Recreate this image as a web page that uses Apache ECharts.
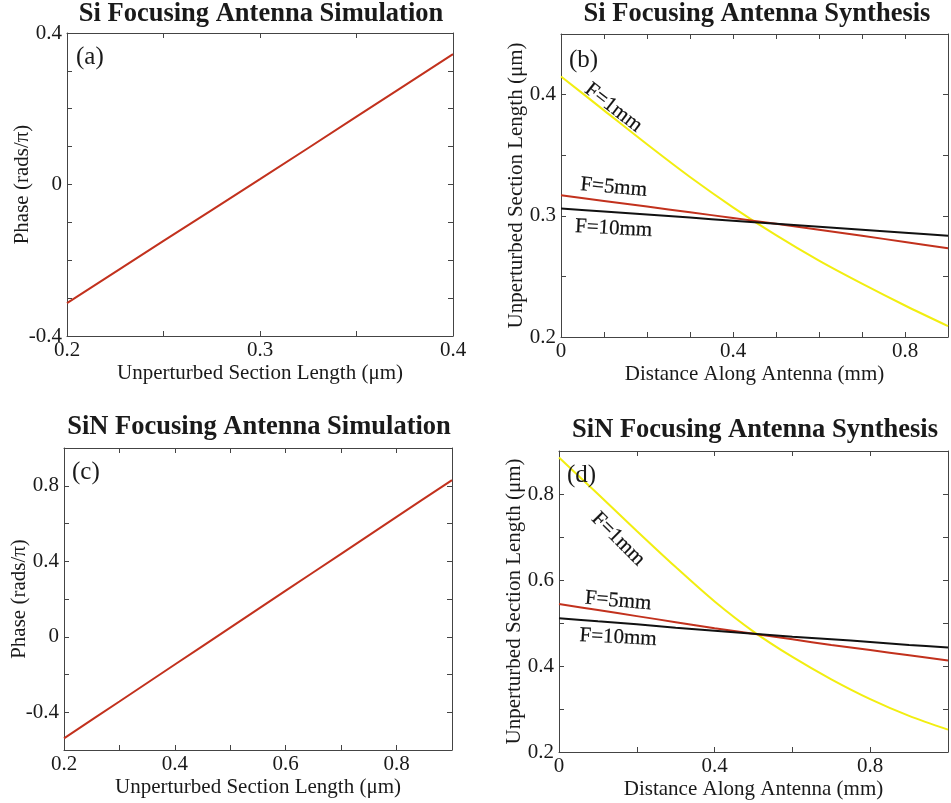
<!DOCTYPE html>
<html><head><meta charset="utf-8">
<script src="https://cdn.jsdelivr.net/npm/echarts@6/dist/echarts.min.js"></script>
<style>html,body{margin:0;padding:0;background:#fff}#c{width:951px;height:803px}</style>
</head><body><div id="c"></div>
<script>
// ---- Data ----
// (a) Si simulation: phase vs section length
const aX = [0.2, 0.25, 0.3, 0.35, 0.4];
const aPhase = [-0.313, -0.149, 0.014, 0.179, 0.344];
// (c) SiN simulation
const cX = [0.2, 0.3, 0.4, 0.5, 0.6, 0.7, 0.8, 0.9];
const cPhase = [-0.538, -0.343, -0.147, 0.048, 0.244, 0.439, 0.635, 0.830];
// (b) Si synthesis: section length vs distance
const bX = [0, 0.1, 0.2, 0.3, 0.4, 0.5, 0.6, 0.7, 0.8, 0.9];
const bF1 = [0.415, 0.387, 0.359, 0.332, 0.307, 0.284, 0.263, 0.244, 0.226, 0.209];
const bF5 = [0.317, 0.3123, 0.3076, 0.3029, 0.2982, 0.2934, 0.2885, 0.2835, 0.2784, 0.2732];
const bF10 = [0.306, 0.3035, 0.301, 0.2985, 0.296, 0.2935, 0.291, 0.2885, 0.286, 0.2835];
// (d) SiN synthesis
const dX = [0, 0.1, 0.2, 0.3, 0.4, 0.5, 0.6, 0.7, 0.8, 0.9, 1.0];
const dF1 = [0.885, 0.800, 0.714, 0.630, 0.550, 0.480, 0.421, 0.369, 0.323, 0.284, 0.252];
const dF5 = [0.544, 0.530, 0.516, 0.502, 0.488, 0.475, 0.462, 0.449, 0.437, 0.425, 0.413];
const dF10 = [0.511, 0.504, 0.497, 0.489, 0.482, 0.475, 0.468, 0.462, 0.456, 0.449, 0.443];
// curve labels: [x, y, text, rotation]
const bLabels = [[0.122, 0.3887, 'F=1mm', -38], [0.1225, 0.323, 'F=5mm', -5], [0.1225, 0.289, 'F=10mm', -3]];
const dLabels = [[0.152, 0.694, 'F=1mm', -45], [0.152, 0.550, 'F=5mm', -5], [0.152, 0.465, 'F=10mm', -3]];
const titles = ['Si Focusing Antenna Simulation', 'Si Focusing Antenna Synthesis', 'SiN Focusing Antenna Simulation', 'SiN Focusing Antenna Synthesis'];
const panelTags = ['(a)', '(b)', '(c)', '(d)'];

// ---- Style ----
const FONT = '"Liberation Serif", "Times New Roman", serif';
const TXT = '#1a1a1a';
const FRAME = '#444';
const RED = '#c2311d';
const YEL = '#f2ee10';
const BLK = '#111';

function zip(xs, ys) { return xs.map((x, i) => [x, ys[i]]); }
function isMult(v, step) { const r = v / step; return Math.abs(r - Math.round(r)) < 1e-6; }

const grids = [
  {left: 67, top: 33, width: 386, height: 303},
  {left: 561, top: 34, width: 389, height: 303},
  {left: 64, top: 448, width: 388, height: 302},
  {left: 559, top: 451, width: 391, height: 301}
];
const xCfg = [
  {min: 0.2, max: 0.4, interval: 0.05, lab: 0.1, name: 'Unperturbed Section Length (μm)'},
  {min: 0, max: 0.9, interval: 0.1, lab: 0.4, name: 'Distance Along Antenna (mm)'},
  {min: 0.2, max: 0.9, interval: 0.1, lab: 0.2, name: 'Unperturbed Section Length (μm)'},
  {min: 0, max: 1.0, interval: 0.2, lab: 0.4, name: 'Distance Along Antenna (mm)'}
];
const yCfg = [
  {min: -0.4, max: 0.4, interval: 0.1, lab: 0.4, name: 'Phase (rads/π)'},
  {min: 0.2, max: 0.45, interval: 0.05, lab: 0.1, name: 'Unperturbed Section Length (μm)'},
  {min: -0.6, max: 1.0, interval: 0.2, lab: 0.4, name: 'Phase (rads/π)'},
  {min: 0.2, max: 0.9, interval: 0.1, lab: 0.2, name: 'Unperturbed Section Length (μm)'}
];

const xAxis = [], yAxis = [];
const tick = {show: true, inside: true, length: 5, lineStyle: {color: FRAME, width: 1}};
const aline = {show: true, onZero: false, lineStyle: {color: FRAME, width: 1}};
grids.forEach((g, i) => {
  const xc = xCfg[i], yc = yCfg[i];
  xAxis.push({
    type: 'value', gridIndex: i, position: 'bottom', min: xc.min, max: xc.max, interval: xc.interval,
    name: xc.name, nameLocation: 'middle', nameGap: 27, nameMoveOverlap: false,
    nameTextStyle: {fontFamily: FONT, fontSize: 21, color: TXT},
    axisLine: aline, axisTick: tick, splitLine: {show: false},
    axisLabel: {margin: 4, fontFamily: FONT, fontSize: 21, color: TXT,
      formatter: v => isMult(v, xc.lab) ? String(+v.toFixed(4)) : ''}
  });
  xAxis.push({
    type: 'value', gridIndex: i, position: 'top', min: xc.min, max: xc.max, interval: xc.interval,
    axisLine: aline, axisTick: tick, splitLine: {show: false},
    axisLabel: {show: false}
  });
  yAxis.push({
    type: 'value', gridIndex: i, position: 'left', min: yc.min, max: yc.max, interval: yc.interval,
    name: yc.name, nameLocation: 'middle', nameGap: 34, nameMoveOverlap: false,
    nameTextStyle: {fontFamily: FONT, fontSize: 21, color: TXT},
    axisLine: aline, axisTick: tick, splitLine: {show: false},
    axisLabel: {margin: 5, fontFamily: FONT, fontSize: 21, color: TXT,
      formatter: v => isMult(v, yc.lab) ? String(+v.toFixed(4)) : ''}
  });
  yAxis.push({
    type: 'value', gridIndex: i, position: 'right', min: yc.min, max: yc.max, interval: yc.interval,
    axisLine: aline, axisTick: tick, splitLine: {show: false},
    axisLabel: {show: false}
  });
});

function line(i, data, color, w) {
  return {type: 'line', xAxisIndex: 2 * i, yAxisIndex: 2 * i, data, showSymbol: false, symbol: 'none',
    smooth: 0.3, lineStyle: {color, width: w || 2}, z: 3, animation: false};
}
function labels(i, arr) {
  return {type: 'scatter', xAxisIndex: 2 * i, yAxisIndex: 2 * i, symbolSize: 1, animation: false, z: 5,
    itemStyle: {color: 'rgba(0,0,0,0)'},
    data: arr.map(a => ({value: [a[0], a[1]], label: {show: true, position: 'top', distance: 0,
      align: 'center', verticalAlign: 'middle', formatter: a[2], rotate: a[3],
      fontFamily: FONT, fontSize: 21, color: '#111', opacity: 1, textBorderColor: '#111', textBorderWidth: 0.2}})),
    silent: true};
}

const series = [
  line(0, zip(aX, aPhase), RED),
  line(1, zip(bX, bF1), YEL), line(1, zip(bX, bF5), RED), line(1, zip(bX, bF10), BLK),
  labels(1, bLabels),
  line(2, zip(cX, cPhase), RED),
  line(3, zip(dX, dF1), YEL), line(3, zip(dX, dF5), RED), line(3, zip(dX, dF10), BLK),
  labels(3, dLabels)
];

const titlePos = [[261, 14], [757, 14], [259, 427], [755, 430]];
const tagPos = [[76, 57], [569, 60], [72, 472], [567, 475]];
const graphic = [];
titles.forEach((t, i) => graphic.push({type: 'text', x: titlePos[i][0], y: titlePos[i][1], z: 10,
  style: {text: t, font: 'bold 26.5px ' + FONT, fill: TXT, textAlign: 'center', textVerticalAlign: 'middle', verticalAlign: 'middle'}}));
panelTags.forEach((t, i) => graphic.push({type: 'text', x: tagPos[i][0], y: tagPos[i][1], z: 10,
  style: {text: t, font: '25px ' + FONT, fill: TXT, textAlign: 'left', textVerticalAlign: 'middle', verticalAlign: 'middle'}}));

const chart = echarts.init(document.getElementById('c'), null, {renderer: 'canvas'});
chart.setOption({backgroundColor: '#fff', animation: false, grid: grids, xAxis, yAxis, series, graphic});
</script></body></html>
